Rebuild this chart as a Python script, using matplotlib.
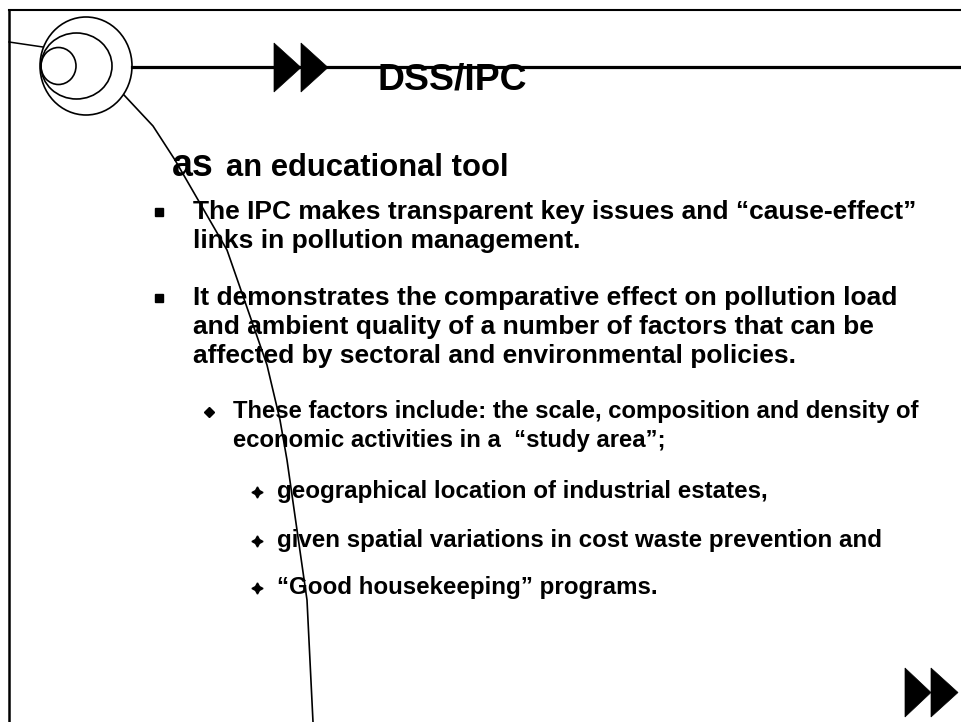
import matplotlib
matplotlib.use("Agg")
from matplotlib import pyplot as plt
from matplotlib.patches import Ellipse, Polygon

plt.rcParams['font.family'] = ['Liberation Sans', 'DejaVu Sans']

# slide text
title = "DSS/IPC"
sub_big = "as"
sub_rest = "an educational tool"
levels = [1, 0, 1, 0, 0, 2, 0, 3, 3, 3]
lines = [
    "The IPC makes transparent key issues and \u201ccause-effect\u201d",
    "links in pollution management.",
    "It demonstrates the comparative effect on pollution load",
    "and ambient quality of a number of factors that can be",
    "affected by sectoral and environmental policies.",
    "These factors include: the scale, composition and density of",
    "economic activities in a  \u201cstudy area\u201d;",
    "geographical location of industrial estates,",
    "given spatial variations in cost waste prevention and",
    "\u201cGood housekeeping\u201d programs.",
]

# layout (pixels, y down)
baselines = [219, 248, 305, 334, 363, 418, 447, 498, 547, 594]
text_x = {1: 193, 2: 233, 3: 277}
bullet_x = {1: 159, 2: 209, 3: 257}
sizes = {1: 19, 2: 17.2, 3: 17.4}
curve_x = [124, 153, 175, 227, 267, 280, 287, 307, 313]
curve_y = [95, 126, 160, 250, 365, 420, 460, 600, 722]

fig = plt.figure(figsize=(9.61, 7.22), dpi=100)
ax = fig.add_axes([0, 0, 1, 1])
ax.set_xlim(0, 961)
ax.set_ylim(722, 0)
ax.axis('off')

# frame
ax.plot([9, 961], [10, 10], color='black', lw=1.5)
ax.plot([9, 9], [10, 722], color='black', lw=1.8)
ax.plot([9, 43], [42, 47], color='black', lw=1.1)

# circles
for cx, w, h in [(86, 92, 98), (76.5, 71, 66), (58.5, 35, 37)]:
    ax.add_patch(Ellipse((cx, 66), w, h, fill=False, ec='black', lw=1.2))

# horizontal rule and curve
ax.plot([132, 961], [67, 67], color='black', lw=2.3)
ax.plot(curve_x, curve_y, color='black', lw=1.2)

# double arrows
for x0, y0, w, h in [(274, 43, 27, 49), (301, 43, 27, 49),
                     (905, 668, 26, 49), (931, 668, 27, 49)]:
    ax.add_patch(Polygon([(x0, y0), (x0, y0 + h), (x0 + w, y0 + h / 2)],
                         closed=True, fc='black', ec='black', lw=0.5))

ax.text(378, 90, title, fontsize=26.9, fontweight='bold', va='baseline')
ax.text(172, 176, sub_big, fontsize=27, fontweight='bold', va='baseline')
ax.text(226, 176, sub_rest, fontsize=22.3, fontweight='bold', va='baseline')

lvl = 1
for level, text, y in zip(levels, lines, baselines):
    if level:
        lvl = level
        if lvl == 1:
            ax.plot(bullet_x[1], y - 7, marker='s', ms=5.5, color='black')
        elif lvl == 2:
            ax.plot(bullet_x[2], y - 6, marker='D', ms=5, color='black')
        else:
            ax.plot(bullet_x[3], y - 6, marker=(4, 1, 0), ms=8, color='black')
    ax.text(text_x[lvl], y, text, fontsize=sizes[lvl], fontweight='bold',
            va='baseline')

fig.savefig('out.png', dpi=100)
